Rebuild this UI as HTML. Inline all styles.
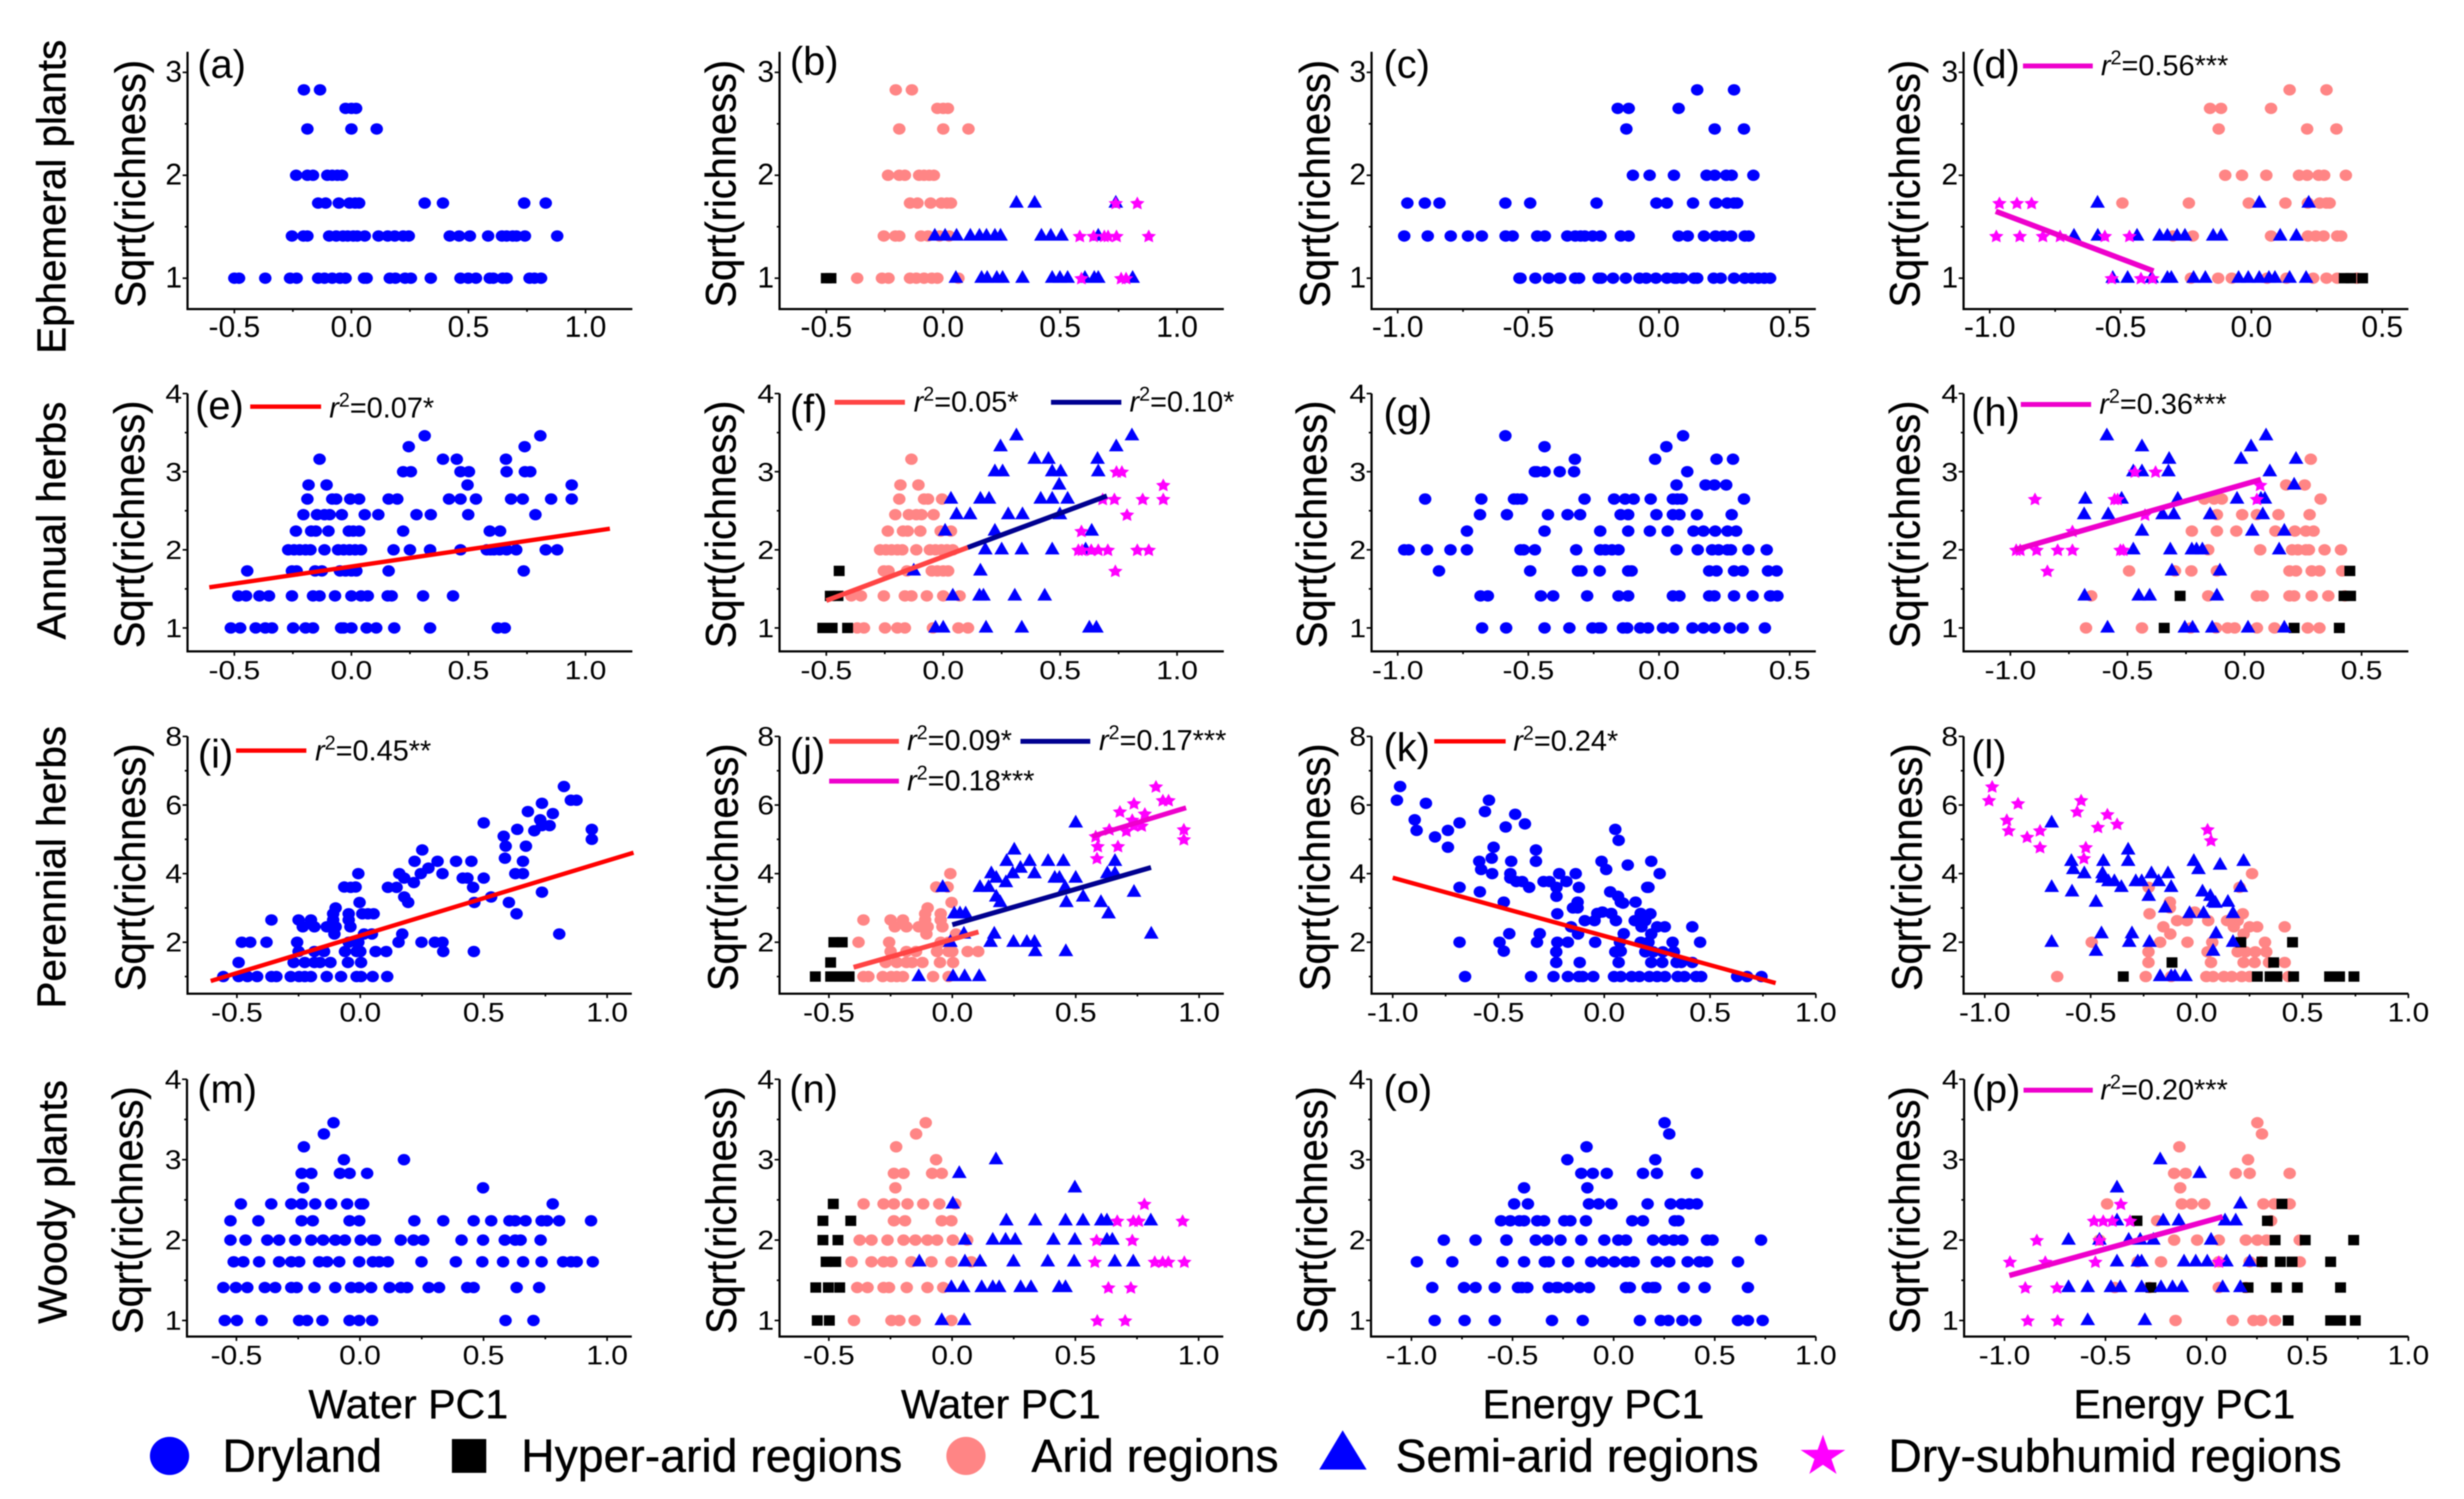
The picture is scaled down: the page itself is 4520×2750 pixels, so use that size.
<!DOCTYPE html>
<html lang="en">
<head>
<meta charset="utf-8">
<title>Species richness versus water and energy PC1 in drylands</title>
<style>
html,body{margin:0;padding:0;background:#fff;}
svg{display:block;filter:blur(1px);}
text{font-family:"Liberation Sans",sans-serif;fill:#000;}
.rowt{font-size:74px;stroke:#000;stroke-width:.8px;}
.yt{font-size:73px;stroke:#000;stroke-width:.6px;}
.xt{font-size:75.5px;stroke:#000;stroke-width:.6px;}
.pl{font-size:73px;}
.r2{font-size:53px;}
.r2 .i{font-style:italic;}
.r2 .s{font-size:36px;}
.leg{font-size:85px;stroke:#000;stroke-width:.6px;}
.tk{font-size:55px;}
</style>
</head>
<body>
<svg xmlns="http://www.w3.org/2000/svg" width="4520" height="2750" viewBox="0 0 4520 2750">
<rect x="0" y="0" width="4520" height="2750" fill="#fff"/>

<text class="rowt" transform="translate(120,361) rotate(-90)" text-anchor="middle">Ephemeral plants</text>
<text class="rowt" transform="translate(120,955) rotate(-90)" text-anchor="middle">Annual herbs</text>
<text class="rowt" transform="translate(120,1591) rotate(-90)" text-anchor="middle">Perennial herbs</text>
<text class="rowt" transform="translate(122,2205) rotate(-90)" text-anchor="middle">Woody plants</text>

<g id="panel-a">
<text class="yt" transform="translate(266,337) rotate(-90) scale(1,1.07)" text-anchor="middle">Sqrt(richness)</text>
<text class="pl" x="362" y="143">(a)</text>
</g>
<g id="panel-b">
<text class="yt" transform="translate(1349,337) rotate(-90) scale(1,1.07)" text-anchor="middle">Sqrt(richness)</text>
<text class="pl" x="1449" y="137">(b)</text>
</g>
<g id="panel-c">
<text class="yt" transform="translate(2439,337) rotate(-90) scale(1,1.07)" text-anchor="middle">Sqrt(richness)</text>
<text class="pl" x="2538" y="143">(c)</text>
</g>
<g id="panel-d">
<text class="yt" transform="translate(3521,337) rotate(-90) scale(1,1.07)" text-anchor="middle">Sqrt(richness)</text>
<text class="pl" x="3616" y="143">(d)</text>
<line x1="3711" y1="121" x2="3839" y2="121" stroke="#ee00cc" stroke-width="9"/>
<text class="r2" x="3854" y="138"><tspan class="i">r</tspan><tspan class="s" dy="-20">2</tspan><tspan dy="20">=0.56***</tspan></text>
</g>

<g id="panel-e">
<text class="yt" transform="translate(264,962) rotate(-90) scale(1,1.07)" text-anchor="middle">Sqrt(richness)</text>
<text class="pl" x="358" y="769">(e)</text>
<line x1="459" y1="746" x2="589" y2="746" stroke="#ff0000" stroke-width="8"/>
<text class="r2" x="604" y="766"><tspan class="i">r</tspan><tspan class="s" dy="-20">2</tspan><tspan dy="20">=0.07*</tspan></text>
</g>
<g id="panel-f">
<text class="yt" transform="translate(1349,962) rotate(-90) scale(1,1.07)" text-anchor="middle">Sqrt(richness)</text>
<text class="pl" x="1449" y="775">(f)</text>
<line x1="1531" y1="738" x2="1660" y2="738" stroke="#ff4444" stroke-width="9"/>
<text class="r2" x="1676" y="755"><tspan class="i">r</tspan><tspan class="s" dy="-20">2</tspan><tspan dy="20">=0.05*</tspan></text>
<line x1="1928" y1="738" x2="2057" y2="738" stroke="#000090" stroke-width="9"/>
<text class="r2" x="2072" y="755"><tspan class="i">r</tspan><tspan class="s" dy="-20">2</tspan><tspan dy="20">=0.10*</tspan></text>
</g>
<g id="panel-g">
<text class="yt" transform="translate(2433,962) rotate(-90) scale(1,1.07)" text-anchor="middle">Sqrt(richness)</text>
<text class="pl" x="2538" y="782">(g)</text>
</g>
<g id="panel-h">
<text class="yt" transform="translate(3521,962) rotate(-90) scale(1,1.07)" text-anchor="middle">Sqrt(richness)</text>
<text class="pl" x="3616" y="781">(h)</text>
<line x1="3707" y1="742" x2="3836" y2="742" stroke="#ee00cc" stroke-width="9"/>
<text class="r2" x="3851" y="759"><tspan class="i">r</tspan><tspan class="s" dy="-20">2</tspan><tspan dy="20">=0.36***</tspan></text>
</g>

<g id="panel-i">
<text class="yt" transform="translate(266,1591) rotate(-90) scale(1,1.07)" text-anchor="middle">Sqrt(richness)</text>
<text class="pl" x="363" y="1408">(i)</text>
<line x1="433" y1="1377" x2="562" y2="1377" stroke="#ff0000" stroke-width="8"/>
<text class="r2" x="578" y="1395"><tspan class="i">r</tspan><tspan class="s" dy="-20">2</tspan><tspan dy="20">=0.45**</tspan></text>
</g>
<g id="panel-j">
<text class="yt" transform="translate(1353,1591) rotate(-90) scale(1,1.07)" text-anchor="middle">Sqrt(richness)</text>
<text class="pl" x="1449" y="1405">(j)</text>
<line x1="1521" y1="1360" x2="1649" y2="1360" stroke="#ff4444" stroke-width="9"/>
<text class="r2" x="1664" y="1376"><tspan class="i">r</tspan><tspan class="s" dy="-20">2</tspan><tspan dy="20">=0.09*</tspan></text>
<line x1="1872" y1="1360" x2="2000" y2="1360" stroke="#000090" stroke-width="9"/>
<text class="r2" x="2016" y="1376"><tspan class="i">r</tspan><tspan class="s" dy="-20">2</tspan><tspan dy="20">=0.17***</tspan></text>
<line x1="1521" y1="1433" x2="1649" y2="1433" stroke="#ee00cc" stroke-width="9"/>
<text class="r2" x="1664" y="1450"><tspan class="i">r</tspan><tspan class="s" dy="-20">2</tspan><tspan dy="20">=0.18***</tspan></text>
</g>
<g id="panel-k">
<text class="yt" transform="translate(2439,1591) rotate(-90) scale(1,1.07)" text-anchor="middle">Sqrt(richness)</text>
<text class="pl" x="2538" y="1396">(k)</text>
<line x1="2631" y1="1360" x2="2762" y2="1360" stroke="#ff0000" stroke-width="8"/>
<text class="r2" x="2776" y="1377"><tspan class="i">r</tspan><tspan class="s" dy="-20">2</tspan><tspan dy="20">=0.24*</tspan></text>
</g>
<g id="panel-l">
<text class="yt" transform="translate(3525,1591) rotate(-90) scale(1,1.07)" text-anchor="middle">Sqrt(richness)</text>
<text class="pl" x="3616" y="1409">(l)</text>
</g>

<g id="panel-m">
<text class="yt" transform="translate(261,2220) rotate(-90) scale(1,1.07)" text-anchor="middle">Sqrt(richness)</text>
<text class="pl" x="362" y="2023">(m)</text>
</g>
<g id="panel-n">
<text class="yt" transform="translate(1350,2220) rotate(-90) scale(1,1.07)" text-anchor="middle">Sqrt(richness)</text>
<text class="pl" x="1448" y="2023">(n)</text>
</g>
<g id="panel-o">
<text class="yt" transform="translate(2434,2220) rotate(-90) scale(1,1.07)" text-anchor="middle">Sqrt(richness)</text>
<text class="pl" x="2538" y="2023">(o)</text>
</g>
<g id="panel-p">
<text class="yt" transform="translate(3521,2220) rotate(-90) scale(1,1.07)" text-anchor="middle">Sqrt(richness)</text>
<text class="pl" x="3617" y="2023">(p)</text>
<line x1="3712" y1="2000" x2="3839" y2="2000" stroke="#ee00cc" stroke-width="9"/>
<text class="r2" x="3853" y="2017"><tspan class="i">r</tspan><tspan class="s" dy="-20">2</tspan><tspan dy="20">=0.20***</tspan></text>
</g>

<text class="xt" x="749" y="2602" text-anchor="middle">Water PC1</text>
<text class="xt" x="1836" y="2602" text-anchor="middle">Water PC1</text>
<text class="xt" x="2923" y="2602" text-anchor="middle">Energy PC1</text>
<text class="xt" x="4007" y="2602" text-anchor="middle">Energy PC1</text>

<g>
<g>
<ellipse cx="311" cy="2671" rx="36" ry="35" fill="#0000ff"/>
<text class="leg" x="408" y="2700">Dryland</text>
</g>
<g>
<rect x="829" y="2640" width="63" height="62" fill="#000"/>
<text class="leg" x="956" y="2700">Hyper-arid regions</text>
</g>
<g>
<ellipse cx="1772" cy="2671" rx="36" ry="35" fill="#ff8585"/>
<text class="leg" x="1892" y="2700">Arid regions</text>
</g>
<g>
<polygon points="2420,2696 2507,2696 2463,2624" fill="#0000ff"/>
<text class="leg" x="2560" y="2700">Semi-arid regions</text>
</g>
<g>
<polygon points="3344,2632 3353.7,2659.6 3385,2660 3359.6,2676.7 3369,2704 3344,2687.3 3319,2704 3328.4,2676.7 3303,2660 3334.3,2659.6" fill="#ff00ff"/>
<text class="leg" x="3464" y="2700">Dry-subhumid regions</text>
</g>
</g>
</svg>

<script>
// ---------- Data: [PC1 score, sqrt(richness)] ----------
const ephWaterHyper = [[-.5,1],[-.48,1]];
const ephWaterArid = [[-.203,2.83],[-.134,2.83],[-.025,2.65],[0,2.65],[.02,2.65],[-.188,2.45],[0,2.45],[.108,2.45],
 [-.236,2],[-.188,2],[-.164,2],[-.103,2],[-.082,2],[-.06,2],[-.04,2],
 [-.142,1.73],[-.11,1.73],[-.054,1.73],[-.008,1.73],[.016,1.73],[.033,1.73],
 [-.254,1.41],[-.205,1.41],[-.188,1.41],[-.095,1.41],[-.065,1.41],[-.016,1.41],[.025,1.41],
 [-.368,1],[-.262,1],[-.234,1],[-.142,1],[-.115,1],[-.082,1],[-.049,1],[-.025,1],[.065,1]];
const ephWaterSemi = [[.313,1.73],[.391,1.73],[.738,1.73],
 [-.036,1.41],[.008,1.41],[.057,1.41],[.116,1.41],[.155,1.41],[.185,1.41],[.221,1.41],[.245,1.41],[.42,1.41],[.46,1.41],[.506,1.41],[.663,1.41],
 [.054,1],[.164,1],[.188,1],[.229,1],[.254,1],[.339,1],[.466,1],[.499,1],[.532,1],[.606,1],[.646,1],[.663,1],[.81,1]];
const ephWaterDry = [[.738,1.73],[.83,1.73],[.584,1.41],[.643,1.41],[.689,1.41],[.705,1.41],[.741,1.41],[.879,1.41],[.591,1],[.761,1],[.782,1]];

const ephEnergyHyper = [[.355,1],[.38,1],[.425,1]];
const ephEnergyArid = [[.146,2.83],[.287,2.83],[-.158,2.65],[-.116,2.65],[.075,2.65],[-.125,2.45],[.213,2.45],[.325,2.45],
 [-.1,2],[-.036,2],[.057,2],[.182,2],[.213,2],[.257,2],[.278,2],[.361,2],
 [-.493,1.73],[-.239,1.73],[-.01,1.73],[.13,1.73],[.216,1.73],[.261,1.73],[.287,1.73],[.299,1.73],
 [-.3,1.41],[-.224,1.41],[.075,1.41],[.216,1.41],[.246,1.41],[.276,1.41],[.328,1.41],[.343,1.41],
 [-.231,1],[-.127,1],[-.075,1],[.06,1],[.134,1],[.236,1],[.287,1],[.328,1],[.403,1]];
const ephEnergySemi = [[-.588,1.73],[.03,1.73],[.219,1.73],
 [-.678,1.41],[-.587,1.41],[-.437,1.41],[-.351,1.41],[-.321,1.41],[-.284,1.41],[-.254,1.41],[-.146,1.41],[-.116,1.41],[.11,1.41],[.172,1.41],
 [-.53,1],[-.473,1],[-.381,1],[-.321,1],[-.306,1],[-.221,1],[-.176,1],[-.049,1],[-.012,1],[.03,1],[.067,1],[.09,1],[.146,1],[.209,1]];
const ephEnergyDry = [[-.963,1.73],[-.896,1.73],[-.84,1.73],[-.975,1.41],[-.885,1.41],[-.797,1.41],[-.731,1.41],[-.56,1.41],[-.466,1.41],[-.534,1],[-.422,1],[-.378,1]];

const annWaterHyper = [[-.445,1.73],[-.483,1.41],[-.45,1.41],[-.515,1],[-.475,1],[-.409,1]];
const annWaterArid = [[-.136,3.16],[-.183,2.83],[-.106,2.83],[-.188,2.65],[-.082,2.65],[-.065,2.65],[-.005,2.65],
 [-.205,2.45],[-.147,2.45],[-.115,2.45],[-.093,2.45],[-.041,2.45],
 [-.237,2.24],[-.172,2.24],[-.152,2.24],[-.098,2.24],[-.011,2.24],[.033,2.24],
 [-.27,2],[-.245,2],[-.221,2],[-.196,2],[-.175,2],[-.115,2],[-.057,2],[-.033,2],[-.008,2],[.016,2],[.041,2],
 [-.254,1.73],[-.234,1.73],[-.155,1.73],[-.049,1.73],[-.025,1.73],[0,1.73],[.021,1.73],
 [-.393,1.41],[-.352,1.41],[-.254,1.41],[-.164,1.41],[-.136,1.41],[-.07,1.41],[0,1.41],[.07,1.41],
 [-.368,1],[-.339,1],[-.249,1],[-.196,1],[-.164,1],[-.044,1],[.065,1],[.106,1]];
const annWaterSemi = [[.313,3.46],[.807,3.46],[.245,3.32],[.74,3.32],[.391,3.16],[.45,3.16],[.66,3.16],
 [.221,3],[.254,3],[.466,3],[.502,3],[.663,3],[.496,2.83],
 [.033,2.65],[.159,2.65],[.196,2.65],[.417,2.65],[.466,2.65],[.532,2.65],
 [.057,2.45],[.115,2.45],[.278,2.45],[.339,2.45],[.499,2.45],[.008,2.24],[.221,2.24],[.635,2.24],
 [.18,2],[.25,2],[.336,2],[.466,2],[.609,2],[-.126,1.73],[.159,1.73],
 [.041,1.41],[.155,1.41],[.172,1.41],[.306,1.41],[.434,1.41],
 [-.033,1],[0,1],[.183,1],[.336,1],[.625,1],[.655,1]];
const annWaterDry = [[.741,3],[.764,3],[.941,2.83],[.682,2.65],[.732,2.65],[.853,2.65],[.941,2.65],[.786,2.45],[.591,2.24],
 [.578,2],[.594,2],[.633,2],[.663,2],[.704,2],[.83,2],[.879,2],[.736,1.73]];

const annEnergyHyper = [[.45,1.73],[-.275,1.41],[.425,1.41],[.453,1.41],[-.343,1],[.212,1],[.405,1]];
const annEnergyArid = [[.283,3.16],[.178,2.83],[.257,2.83],[-.172,2.65],[-.13,2.65],[-.097,2.65],[.325,2.65],
 [-.118,2.45],[-.01,2.45],[.053,2.45],[.145,2.45],[.278,2.45],
 [-.225,2.24],[-.118,2.24],[-.035,2.24],[.132,2.24],[.215,2.24],[.262,2.24],[.295,2.24],
 [-.155,2],[.067,2],[.203,2],[.228,2],[.262,2],[.275,2],[.342,2],[.412,2],
 [-.493,1.73],[-.297,1.73],[-.227,1.73],[-.118,1.73],[.192,1.73],[.22,1.73],[.287,1.73],[.32,1.73],[.417,1.73],
 [-.655,1.41],[-.155,1.41],[.053,1.41],[.078,1.41],[.192,1.41],[.212,1.41],[.287,1.41],[.358,1.41],[.428,1.41],
 [-.677,1],[-.438,1],[-.23,1],[-.122,1],[-.072,1],[-.042,1],[.053,1],[.128,1],[.27,1],[.32,1]];
const annEnergySemi = [[-.588,3.46],[.092,3.46],[-.438,3.32],[.028,3.32],[-.322,3.16],[-.015,3.16],[.22,3.16],
 [-.475,3],[-.438,3],[-.325,3],[.108,3],[.212,2.83],
 [-.68,2.65],[-.525,2.65],[-.285,2.65],[-.032,2.65],[.07,2.65],[.087,2.65],
 [-.685,2.45],[-.582,2.45],[-.35,2.45],[-.302,2.45],[-.147,2.45],[.078,2.45],
 [-.438,2.24],[.033,2.24],[.17,2.24],[-.475,2],[-.317,2],[-.225,2],[-.205,2],[-.18,2],[.148,2],
 [-.31,1.73],[-.105,1.73],[-.683,1.41],[-.452,1.41],[-.405,1.41],[-.118,1.41],
 [-.585,1],[-.255,1],[-.222,1],[-.138,1],[.015,1],[.17,1]];
const annEnergyDry = [[-.468,3],[-.38,3],[.067,2.83],[-.895,2.65],[-.555,2.65],[-.542,2.65],[.053,2.65],[-.425,2.45],[-.735,2.24],
 [-.975,2],[-.958,2],[-.888,2],[-.798,2],[-.735,2],[-.53,2],[-.518,2],[-.842,1.73]];

const perWaterHyper = [[-.48,2],[-.446,2],[-.493,1.41],[-.555,1],[-.493,1],[-.457,1],[-.418,1]];
const perWaterArid = [[-.008,4],[-.065,3.61],[-.019,3.61],[-.003,3.16],[-.1,3],[-.11,2.83],[-.047,2.83],
 [-.36,2.65],[-.25,2.65],[-.2,2.65],[-.11,2.65],[-.047,2.65],
 [-.233,2.45],[-.186,2.45],[-.136,2.45],[-.1,2.45],[-.04,2.45],[-.105,2.24],[.015,2.24],
 [-.38,2],[-.256,2],[-.047,2],[-.015,2],
 [-.25,1.73],[-.186,1.73],[-.147,1.73],[-.062,1.73],[-.015,1.73],[0,1.73],[.062,1.73],[.105,1.73],
 [-.27,1.41],[-.225,1.41],[-.186,1.41],[-.163,1.41],[-.121,1.41],[-.05,1.41],[.003,1.41],
 [-.36,1],[-.34,1],[-.282,1],[-.248,1],[-.225,1],[-.2,1],[-.078,1],[-.015,1]];
const perWaterSemi = [[.5,5.48],[.251,4.69],[.22,4.36],[.313,4.36],[.388,4.36],[.45,4.36],[.659,4.36],[.276,4.16],
 [.158,4],[.245,4],[.333,4],[.659,4],[.628,4],[.5,3.87],[.415,3.87],[.434,3.87],[.178,3.87],[.217,3.74],
 [.112,3.6],[.147,3.6],[-.039,3.6],[.457,3.6],[.736,3.46],[.178,3.32],[.53,3.32],[.194,3.16],[.462,3.16],[.602,3.16],
 [.008,2.83],[.031,2.83],[.054,2.83],[.633,2.83],[.047,2.24],[.17,2.24],[.806,2.24],
 [-.008,2],[.155,2],[.248,2],[.302,2],[.333,2],[.336,1.73],[.46,1.73],[-.136,1],[.003,1],[.05,1],[.109,1]];
const perWaterDry = [[.825,6.54],[.853,6.14],[.876,6.14],[.736,6.05],[.679,5.81],[.78,5.75],[.729,5.57],[.736,5.4],[.767,5.4],
 [.636,5.29],[.705,5.25],[.938,5.29],[.581,5.09],[.938,5],[.589,4.8],[.671,4.8],[.586,4.45]];

const perEnergyHyper = [[.453,2],[.209,2],[-.116,1.41],[.364,1.41],[-.346,1],[.287,1],[.347,1],[.379,1],[.458,1],[.628,1],[.675,1],[.743,1]];
const perEnergyArid = [[.262,4],[-.226,3.6],[.203,3.6],[-.126,3.17],[-.126,3],[-.222,2.83],[-.009,2.88],[.218,2.83],
 [-.092,2.63],[-.046,2.63],[.055,2.63],[.144,2.63],[.194,2.63],
 [-.157,2.45],[.176,2.45],[.25,2.45],[.286,2.45],[.416,2.45],[-.124,2.24],[.222,2.24],
 [-.495,2],[-.172,2],[-.043,2],[.074,2],[.323,2],
 [-.227,1.72],[.052,1.72],[.194,1.72],[.231,1.72],[.277,1.72],[.329,1.72],
 [-.227,1.41],[.068,1.41],[.222,1.41],[.274,1.41],[.342,1.41],[.416,1.41],
 [-.658,1],[-.24,1],[-.12,1],[.046,1],[.078,1],[.129,1],[.166,1],[.213,1],[.25,1],[.434,1]];
const perEnergySemi = [[-.684,5.48],[-.323,4.69],[-.591,4.36],[-.44,4.36],[-.323,4.36],[-.013,4.36],[.222,4.36],[.111,4.25],
 [-.582,4.12],[.009,4.12],[-.53,4],[-.444,4],[-.213,4],[-.135,4],[-.444,3.87],
 [-.416,3.77],[-.388,3.77],[-.287,3.77],[-.259,3.77],[-.179,3.77],
 [-.355,3.6],[-.684,3.6],[-.12,3.6],[.209,3.6],[-.588,3.47],[.028,3.47],[.065,3.34],[-.226,3.34],
 [.078,3.17],[.089,3.14],[.148,3.17],[-.475,3.17],[-.148,3],[-.033,2.84],[.033,2.84],[.172,2.84],
 [-.449,2.25],[-.305,2.25],[.092,2.25],[-.318,2],[-.684,2],[-.222,2],[.172,2],[-.475,1.74],[.078,1.74],
 [-.172,1],[-.12,1],[-.102,1],[-.052,1]];
const perEnergyDry = [[-.965,6.54],[-.98,6.14],[-.843,6.05],[-.545,6.14],[-.564,5.81],[-.421,5.73],[-.896,5.57],[-.375,5.45],[-.466,5.36],
 [-.887,5.26],[-.739,5.26],[.052,5.29],[-.8,5.07],[.068,4.97],[-.739,4.77],[-.523,4.77],[-.532,4.45]];

const wooWaterHyper = [[-.482,2.45],[-.524,2.24],[-.411,2.24],[-.524,2],[-.463,2],[-.511,1.73],[-.472,1.73],
 [-.553,1.41],[-.502,1.41],[-.456,1.41],[-.547,1],[-.498,1]];
const wooWaterArid = [[-.107,3.46],[-.146,3.32],[-.227,3.16],[-.065,3],[-.236,2.83],[-.197,2.83],[-.081,2.83],[-.042,2.83],[-.23,2.65],
 [-.359,2.45],[-.278,2.45],[-.236,2.45],[-.181,2.45],[-.117,2.45],[-.052,2.45],[.013,2.45],
 [-.236,2.24],[-.191,2.24],[-.042,2.24],[-.003,2.24],
 [-.375,2],[-.327,2],[-.262,2],[-.197,2],[-.149,2],[-.1,2],[-.061,2],[.003,2],[.061,2],
 [-.408,1.73],[-.327,1.73],[-.278,1.73],[-.246,1.73],[-.165,1.73],[-.084,1.73],[-.003,1.73],[.078,1.73],
 [-.385,1.41],[-.343,1.41],[-.278,1.41],[-.256,1.41],[-.184,1.41],[-.1,1.41],[-.036,1.41],
 [-.398,1],[-.246,1],[-.214,1],[-.152,1],[-.003,1]];
const wooWaterSemi = [[.178,3],[.029,2.83],[.498,2.65],[.003,2.45],
 [.22,2.24],[.337,2.24],[.46,2.24],[.531,2.24],[.605,2.24],[.628,2.24],[.806,2.24],
 [.052,2],[.165,2],[.217,2],[.256,2],[.411,2],[.498,2],[.628,2],[.65,2],
 [-.133,1.73],[.052,1.73],[.113,1.73],[.249,1.73],[.388,1.73],[.495,1.73],[.66,1.73],[.735,1.73],
 [-.003,1.41],[.045,1.41],[.12,1.41],[.165,1.41],[.191,1.41],[.278,1.41],[.32,1.41],[.434,1.41],[.46,1.41],
 [-.042,1],[.049,1]];
const wooWaterDry = [[.78,2.45],[.67,2.24],[.735,2.24],[.757,2.24],[.935,2.24],[.586,2],[.731,2],
 [.579,1.73],[.822,1.73],[.854,1.73],[.877,1.73],[.942,1.73],[.634,1.41],[.725,1.41],[.589,1],[.702,1]];

const wooEnergyHyper = [[.374,2.45],[-.344,2.24],[.302,2.24],[.34,2],[.489,2],[.729,2],
 [.275,1.73],[.366,1.73],[.424,1.73],[.615,1.73],[-.275,1.41],[.206,1.41],[.347,1.41],[.45,1.41],[.664,1.41],
 [.405,1],[.615,1],[.664,1],[.737,1]];
const wooEnergyArid = [[.252,3.46],[.275,3.32],[-.134,3.16],[.206,3],[-.16,2.83],[-.103,2.83],[.145,2.83],[.214,2.83],[.412,2.83],[-.13,2.65],
 [-.492,2.45],[-.122,2.45],[-.073,2.45],[-.011,2.45],[.282,2.45],[.336,2.45],[.412,2.45],[-.244,2.24],[.32,2.24],
 [-.53,2],[-.16,2],[-.046,2],[.061,2],[.195,2],[.252,2],[.298,2],[.462,2],
 [-.34,1.73],[-.225,1.73],[.061,1.73],[.214,1.73],[.271,1.73],[.462,1.73],
 [-.454,1.41],[.061,1.41],[-.282,1.41],[.195,1.41],[-.153,1],[.13,1],[.233,1],[.271,1],[.34,1]];
const wooEnergySemi = [[-.229,3],[-.034,2.83],[-.443,2.65],[.168,2.45],[-.443,2.24],[-.214,2.24],[-.137,2.24],[.092,2.24],[.145,2.24],
 [-.683,2],[-.53,2],[-.385,2],[-.328,2],[-.263,2],[.023,2],
 [-.443,1.73],[-.34,1.73],[-.321,1.73],[-.111,1.73],[-.053,1.73],[.004,1.73],[.099,1.73],[.214,1.73],
 [-.683,1.41],[-.588,1.41],[-.473,1.41],[-.427,1.41],[-.321,1.41],[-.225,1.41],[-.168,1.41],[-.122,1.41],[.08,1.41],[.168,1.41],
 [-.588,1],[-.305,1]];
const wooEnergyDry = [[-.424,2.45],[-.557,2.24],[-.511,2.24],[-.466,2.24],[-.378,2.24],[-.84,2],[-.53,2],
 [-.973,1.73],[-.798,1.73],[-.55,1.73],[.061,1.73],[-.897,1.41],[-.74,1.41],[-.885,1],[-.737,1]];

// Fitted regression lines: [x0,y0],[x1,y1]
const fitD = [[-.977,1.65],[-.374,1.07]];
const fitE = [[-.607,1.52],[1.104,2.27]];
const fitFArid = [[-.5,1.35],[.105,2.03]];
const fitFSemi = [[.105,2.03],[.70,2.69]];
const fitH = [[-.98,2.0],[.07,2.9]];
const fitI = [[-.606,.87],[1.107,4.61]];
const fitJArid = [[-.40,1.27],[.106,2.3]];
const fitJSemi = [[0,2.51],[.805,4.18]];
const fitJDry = [[.567,5.09],[.947,5.92]];
const fitK = [[-1.0,3.88],[.81,.81]];
const fitP = [[-.976,1.56],[.08,2.29]];

// Tick values and labels
const xTicksWater = [-0.5,0,0.5,1];
const xTickLabelsWater = ['-0.5','0.0','0.5','1.0'];
const xMinorWater = [-0.25,0.25,0.75];
const xTicksEnergyShort = [-1,-0.5,0,0.5];
const xTickLabelsEnergyShort = ['-1.0','-0.5','0.0','0.5'];
const xMinorEnergyShort = [-0.75,-0.25,0.25];
const xTicksEnergyLong = [-1,-0.5,0,0.5,1];
const xTickLabelsEnergyLong = ['-1.0','-0.5','0.0','0.5','1.0'];
const xMinorEnergyLong = [-0.75,-0.25,0.25,0.75];
const yTicksRow1 = [1,2,3];
const yMinorRow1 = [1.5,2.5];
const yTicksRow24 = [1,2,3,4];
const yMinorRow24 = [1.5,2.5,3.5];
const yTicksRow3 = [2,4,6,8];
const yMinorRow3 = [1,3,5,7];

// ---------- Drawing ----------
const NS = 'http://www.w3.org/2000/svg';
const BLUE = '#0000ff', PINK = '#ff8585', MAGENTA = '#ff00ff';
const RED = '#ff0000', SOFTRED = '#ff4444', NAVY = '#000090', FITMAG = '#ee00cc';

function linear(d0, d1, r0, r1) { return v => r0 + (v - d0) * (r1 - r0) / (d1 - d0); }

function drylandDot(g, cx, cy) {
  const el = document.createElementNS(NS, 'ellipse');
  el.setAttribute('cx', cx); el.setAttribute('cy', cy);
  el.setAttribute('rx', 11.5); el.setAttribute('ry', 10.5);
  el.setAttribute('fill', BLUE);
  
  
  g.appendChild(el);
}
function aridDot(g, cx, cy) {
  const el = document.createElementNS(NS, 'ellipse');
  el.setAttribute('cx', cx); el.setAttribute('cy', cy);
  el.setAttribute('rx', 11.5); el.setAttribute('ry', 10.5);
  el.setAttribute('fill', PINK);
  
  
  g.appendChild(el);
}
function hyperSquare(g, cx, cy) {
  const el = document.createElementNS(NS, 'rect');
  el.setAttribute('x', cx - 10); el.setAttribute('y', cy - 9.5);
  el.setAttribute('width', 20); el.setAttribute('height', 19);
  el.setAttribute('fill', '#000');
  
  
  g.appendChild(el);
}
function semiTriangle(g, cx, cy) {
  const el = document.createElementNS(NS, 'polygon');
  el.setAttribute('points', [[cx, cy - 15], [cx + 13.5, cy + 8.5], [cx - 13.5, cy + 8.5]].map(p => p.join(',')).join(' '));
  el.setAttribute('fill', BLUE);
  
  
  g.appendChild(el);
}
function dryStar(g, cx, cy) {
  const pts = [];
  for (let i = 0; i < 10; i++) {
    const a = -Math.PI / 2 + i * Math.PI / 5;
    const k = i % 2 ? 0.5 : 1;
    pts.push((cx + 14 * k * Math.cos(a)).toFixed(1) + ',' + (cy + 1 + 13 * k * Math.sin(a)).toFixed(1));
  }
  const el = document.createElementNS(NS, 'polygon');
  el.setAttribute('points', pts.join(' '));
  el.setAttribute('fill', MAGENTA);
  
  
  g.appendChild(el);
}

function axisLine(g, x1, y1, x2, y2, w) {
  const el = document.createElementNS(NS, 'line');
  el.setAttribute('x1', x1); el.setAttribute('y1', y1);
  el.setAttribute('x2', x2); el.setAttribute('y2', y2);
  el.setAttribute('stroke', '#000');
  el.setAttribute('stroke-width', w);
  
  
  g.appendChild(el);
}
function xTickLabel(g, x, y, str, sy) {
  const el = document.createElementNS(NS, 'text');
  el.setAttribute('class', 'tk');
  el.setAttribute('text-anchor', 'middle');
  el.setAttribute('transform', 'translate(' + x + ',' + y + ') scale(1,' + sy + ')');
  el.textContent = str;
  
  
  g.appendChild(el);
}
function yTickLabel(g, x, y, str, sy) {
  const el = document.createElementNS(NS, 'text');
  el.setAttribute('class', 'tk');
  el.setAttribute('text-anchor', 'end');
  el.setAttribute('transform', 'translate(' + x + ',' + y + ') scale(1,' + sy + ')');
  el.textContent = str;
  
  
  g.appendChild(el);
}
function fitLine(g, pts, sx, sy, color, w) {
  const el = document.createElementNS(NS, 'line');
  el.setAttribute('x1', sx(pts[0][0])); el.setAttribute('y1', sy(pts[0][1]));
  el.setAttribute('x2', sx(pts[1][0])); el.setAttribute('y2', sy(pts[1][1]));
  el.setAttribute('stroke', color);
  el.setAttribute('stroke-width', w);
  
  
  g.appendChild(el);
}

const rows = [
  {d: [0.7, 3.2], r: [567, 95], ticks: yTicksRow1, minor: yMinorRow1, ts: 1},
  {d: [0.7, 4], r: [1195, 722], ticks: yTicksRow24, minor: yMinorRow24, ts: 0.87},
  {d: [0.5, 8], r: [1823, 1351], ticks: yTicksRow3, minor: yMinorRow3, ts: 0.9},
  {d: [0.8, 4], r: [2452, 1980], ticks: yTicksRow24, minor: yMinorRow24, ts: 0.9}
];
const waterAxis = {t: xTicksWater, l: xTickLabelsWater, m: xMinorWater};
const shortAxis = {t: xTicksEnergyShort, l: xTickLabelsEnergyShort, m: xMinorEnergyShort};
const longAxis = {t: xTicksEnergyLong, l: xTickLabelsEnergyLong, m: xMinorEnergyLong};

function panel(id, row, xd, xr, axis, regions, fits) {
  const g = document.getElementById('panel-' + id);
  const R = rows[row];
  const sx = linear(xd[0], xd[1], xr[0], xr[1]);
  const sy = linear(R.d[0], R.d[1], R.r[0], R.r[1]);
  const base = R.r[0], left = xr[0];
  axisLine(g, left, R.r[1], left, base + 2, 4);
  axisLine(g, left - 2, base, xr[1], base, 4);
  axis.t.forEach((v, i) => {
    axisLine(g, sx(v), base, sx(v), base + 8, 3);
    xTickLabel(g, sx(v), base + 51, axis.l[i], R.ts);
  });
  axis.m.forEach(v => axisLine(g, sx(v), base, sx(v), base + 5, 3));
  R.ticks.forEach(v => {
    axisLine(g, left, sy(v), left - 9, sy(v), 3);
    yTickLabel(g, left - 10, sy(v) + 17, String(v), R.ts);
  });
  R.minor.forEach(v => axisLine(g, left, sy(v), left - 5, sy(v), 3));

  if (regions.dryland) {
    regions.dryland.forEach(list => list.forEach(p => drylandDot(g, sx(p[0]), sy(p[1]))));
  } else {
    regions.arid.forEach(p => aridDot(g, sx(p[0]), sy(p[1])));
    regions.hyper.forEach(p => hyperSquare(g, sx(p[0]), sy(p[1])));
    regions.semi.forEach(p => semiTriangle(g, sx(p[0]), sy(p[1])));
    regions.dry.forEach(p => dryStar(g, sx(p[0]), sy(p[1])));
  }
  (fits || []).forEach(f => fitLine(g, f[0], sx, sy, f[1], f[2]));
}

panel('a', 0, [-0.7, 1.2], [344, 1160], waterAxis, {dryland: [ephWaterHyper, ephWaterArid, ephWaterSemi, ephWaterDry]});
panel('b', 0, [-0.7, 1.2], [1430, 2245], waterAxis, {hyper: ephWaterHyper, arid: ephWaterArid, semi: ephWaterSemi, dry: ephWaterDry});
panel('c', 0, [-1.1, 0.6], [2516, 3331], shortAxis, {dryland: [ephEnergyHyper, ephEnergyArid, ephEnergySemi, ephEnergyDry]});
panel('d', 0, [-1.1, 0.6], [3602, 4418], shortAxis, {hyper: ephEnergyHyper, arid: ephEnergyArid, semi: ephEnergySemi, dry: ephEnergyDry}, [[fitD, FITMAG, 10]]);

panel('e', 1, [-0.7, 1.2], [344, 1160], waterAxis, {dryland: [annWaterHyper, annWaterArid, annWaterSemi, annWaterDry]}, [[fitE, RED, 8]]);
panel('f', 1, [-0.7, 1.2], [1430, 2245], waterAxis, {hyper: annWaterHyper, arid: annWaterArid, semi: annWaterSemi, dry: annWaterDry}, [[fitFArid, SOFTRED, 9], [fitFSemi, NAVY, 9]]);
panel('g', 1, [-1.1, 0.6], [2516, 3331], shortAxis, {dryland: [annEnergyHyper, annEnergyArid, annEnergySemi, annEnergyDry]});
panel('h', 1, [-1.2, 0.7], [3602, 4418], shortAxis, {hyper: annEnergyHyper, arid: annEnergyArid, semi: annEnergySemi, dry: annEnergyDry}, [[fitH, FITMAG, 10]]);

panel('i', 2, [-0.7, 1.1], [344, 1159], waterAxis, {dryland: [perWaterHyper, perWaterArid, perWaterSemi, perWaterDry]}, [[fitI, RED, 8]]);
panel('j', 2, [-0.7, 1.1], [1430, 2245], waterAxis, {hyper: perWaterHyper, arid: perWaterArid, semi: perWaterSemi, dry: perWaterDry}, [[fitJArid, SOFTRED, 9], [fitJSemi, NAVY, 9], [fitJDry, FITMAG, 9]]);
panel('k', 2, [-1.1, 1.0], [2516, 3331], longAxis, {dryland: [perEnergyHyper, perEnergyArid, perEnergySemi, perEnergyDry]}, [[fitK, RED, 8]]);
panel('l', 2, [-1.1, 1.0], [3602, 4418], longAxis, {hyper: perEnergyHyper, arid: perEnergyArid, semi: perEnergySemi, dry: perEnergyDry});

panel('m', 3, [-0.7, 1.1], [343, 1159], waterAxis, {dryland: [wooWaterHyper, wooWaterArid, wooWaterSemi, wooWaterDry]});
panel('n', 3, [-0.7, 1.1], [1430, 2244], waterAxis, {hyper: wooWaterHyper, arid: wooWaterArid, semi: wooWaterSemi, dry: wooWaterDry});
panel('o', 3, [-1.2, 1.0], [2515, 3331], longAxis, {dryland: [wooEnergyHyper, wooEnergyArid, wooEnergySemi, wooEnergyDry]});
panel('p', 3, [-1.2, 1.0], [3603, 4418], longAxis, {hyper: wooEnergyHyper, arid: wooEnergyArid, semi: wooEnergySemi, dry: wooEnergyDry}, [[fitP, FITMAG, 10]]);
</script>
</body>
</html>
